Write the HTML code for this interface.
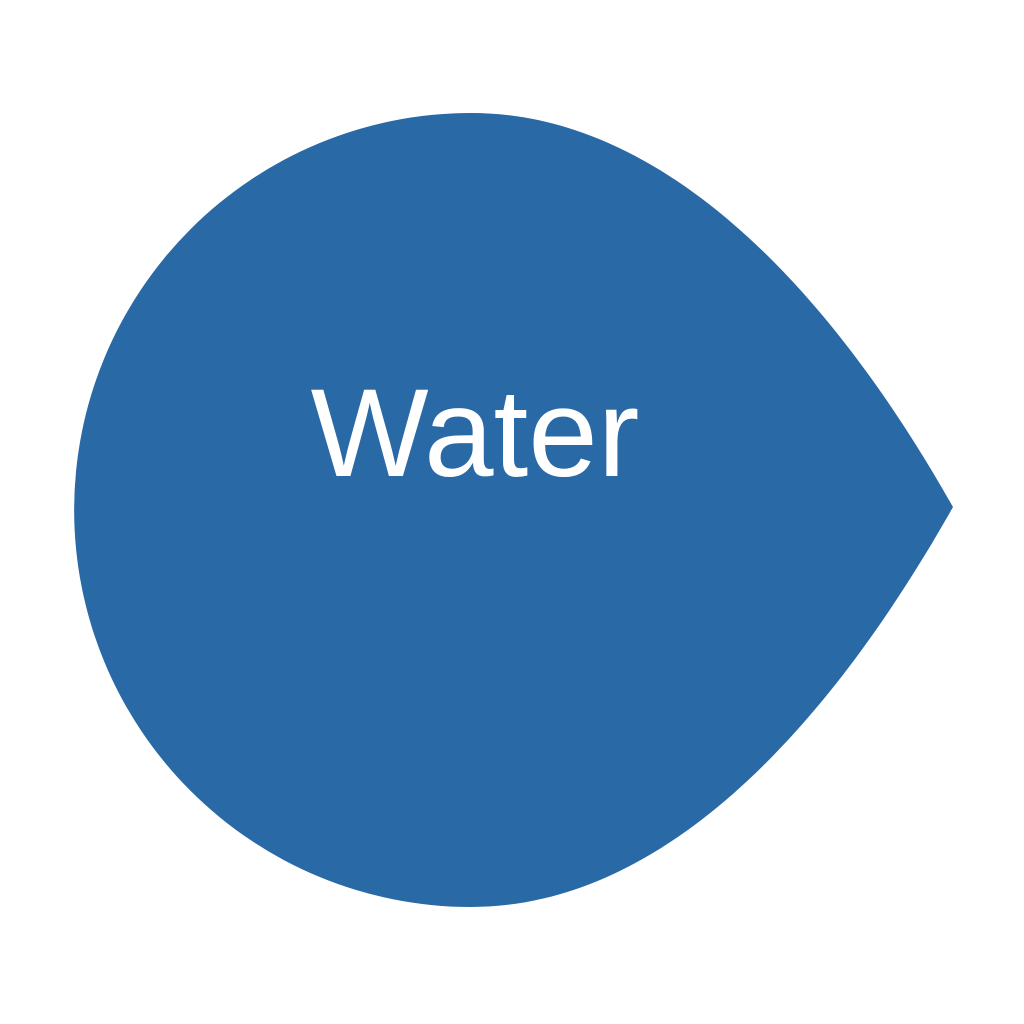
<!DOCTYPE html>
<html>
<head>
<meta charset="utf-8">
<style>
html,body{margin:0;padding:0;background:#fff;}
svg{display:block;}
</style>
</head>
<body>
<svg width="1024" height="1024" viewBox="0 0 1024 1024" xmlns="http://www.w3.org/2000/svg">
<path d="M953,507 C870,360 700,113 471,113 A397,397 0 0 0 471,907 C700,907 870,654 953,507 Z" fill="#2869a6"/>
<text x="475" y="476" text-anchor="middle" fill="#ffffff" font-family="Liberation Sans, sans-serif" font-size="125">Water</text>
</svg>
</body>
</html>
